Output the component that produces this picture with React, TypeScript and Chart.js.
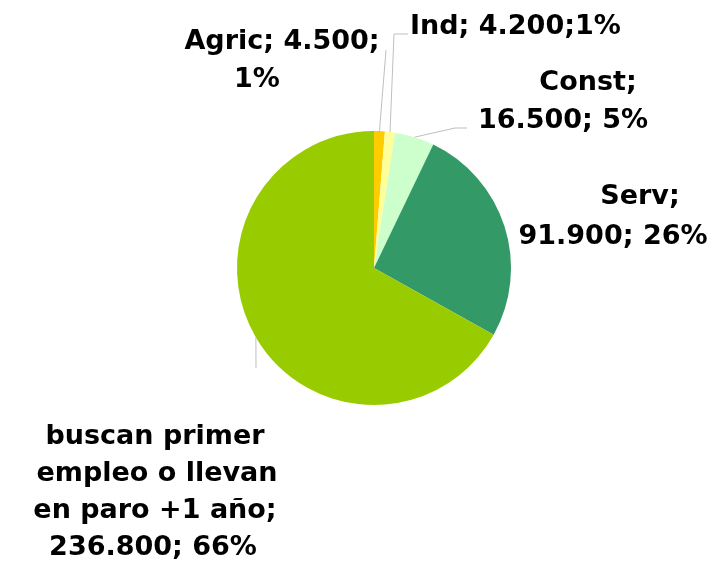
import React, { useEffect, useRef } from "react";
import { Chart, registerables } from "chart.js";

Chart.register(...registerables);

const categories = ["Agric", "Ind", "Const", "Serv", "buscan primer empleo o llevan en paro +1 año"];
const values = [4500, 4200, 16500, 91900, 236800];
const valueLabels = ["4.500", "4.200", "16.500", "91.900", "236.800"];
const percentLabels = ["1%", "1%", "5%", "26%", "66%"];
const colors = ["#FFCC00", "#FFFF99", "#CCFFCC", "#339966", "#99CC00"];

// label text lines per slice
const labelLines: string[][] = [
  [`${categories[0]}; ${valueLabels[0]};`, percentLabels[0]],
  [`${categories[1]}; ${valueLabels[1]};${percentLabels[1]}`],
  [`${categories[2]};`, `${valueLabels[2]}; ${percentLabels[2]}`],
  [`${categories[3]};`, `${valueLabels[3]}; ${percentLabels[3]}`],
  ["buscan primer", "empleo o llevan", "en paro +1 año;", `${valueLabels[4]}; ${percentLabels[4]}`],
];

// layout: label line positions (x center / left, y middle), relative to pie center; leader points
type LabelLayout = {
  lines: { dx: number; dy: number; align: CanvasTextAlign }[];
  leader: { dx: number; dy: number }[];
};
const layouts: LabelLayout[] = [
  { lines: [{ dx: -92, dy: -226, align: "center" }, { dx: -117, dy: -188, align: "center" }], leader: [{ dx: 12, dy: -218 }] },
  { lines: [{ dx: 36, dy: -241, align: "left" }], leader: [{ dx: 20, dy: -234 }, { dx: 34, dy: -234 }] },
  { lines: [{ dx: 214, dy: -185, align: "center" }, { dx: 189, dy: -147, align: "center" }], leader: [{ dx: 81, dy: -140 }, { dx: 93, dy: -140 }] },
  { lines: [{ dx: 266, dy: -71, align: "center" }, { dx: 239, dy: -31, align: "center" }], leader: [] },
  {
    lines: [
      { dx: -219, dy: 169, align: "center" },
      { dx: -217, dy: 206, align: "center" },
      { dx: -219, dy: 243, align: "center" },
      { dx: -221, dy: 280, align: "center" },
    ],
    leader: [{ dx: -118, dy: 100 }],
  },
];

const labelPlugin = {
  id: "pieLabels",
  afterDraw(chart: any) {
    const ctx = chart.ctx as CanvasRenderingContext2D;
    const meta = chart.getDatasetMeta(0);
    ctx.save();
    meta.data.forEach((arc: any, i: number) => {
      const { x, y, outerRadius, startAngle, endAngle } = arc.getProps(["x", "y", "outerRadius", "startAngle", "endAngle"], true);
      const mid = (startAngle + endAngle) / 2;
      const lay = layouts[i];
      if (lay.leader.length) {
        ctx.strokeStyle = "#BFBFBF";
        ctx.lineWidth = 1;
        ctx.beginPath();
        ctx.moveTo(x + Math.cos(mid) * outerRadius, y + Math.sin(mid) * outerRadius);
        lay.leader.forEach((p) => ctx.lineTo(x + p.dx, y + p.dy));
        ctx.stroke();
      }
      ctx.fillStyle = "#000000";
      ctx.font = "bold 27px 'DejaVu Sans'";
      ctx.textBaseline = "middle";
      labelLines[i].forEach((t, j) => {
        const l = lay.lines[j];
        ctx.textAlign = l.align;
        ctx.fillText(t, x + l.dx, y + l.dy);
      });
    });
    ctx.restore();
  },
};

export default function App() {
  const ref = useRef<HTMLCanvasElement>(null);
  useEffect(() => {
    document.body.style.margin = "0";
    const chart = new Chart(ref.current!, {
      type: "pie",
      data: {
        labels: categories,
        datasets: [{ data: values, backgroundColor: colors, borderWidth: 0 }],
      },
      options: {
        animation: false,
        responsive: false,
        layout: { padding: { left: 237, right: 209, top: 131, bottom: 162 } },
        plugins: { legend: { display: false }, tooltip: { enabled: false } },
      },
      plugins: [labelPlugin],
    });
    return () => chart.destroy();
  }, []);
  return (
    <div style={{ width: 720, height: 567, background: "#fff" }}>
      <canvas ref={ref} width={720} height={567} />
    </div>
  );
}
